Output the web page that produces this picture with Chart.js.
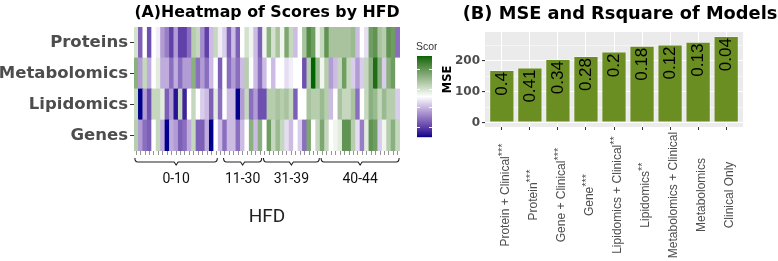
<!DOCTYPE html>
<html>
<head>
<meta charset="utf-8">
<script src="https://cdn.jsdelivr.net/npm/chart.js@4.4.0/dist/chart.umd.min.js"></script>
<style>
  html, body { margin: 0; padding: 0; background: #fff; }
  #wrap { position: relative; width: 778px; height: 261px; overflow: hidden; }
  #heat { position: absolute; left: 0; top: 0; width: 437px; height: 261px; }
  #bars { position: absolute; left: 437px; top: 0; width: 341px; height: 261px; }
</style>
</head>
<body>
<div id="wrap">
  <canvas id="heat" width="437" height="261"></canvas>
  <canvas id="bars" width="341" height="261"></canvas>
</div>
<script>
// ---- panel A: scores per HFD column, one array per omics row ----
const rowNames = ["Proteins", "Metabolomics", "Lipidomics", "Genes"];

const proteins = [0.15,-0.5,0.0,-0.55,0.0,-0.05,-0.3,-0.4,-0.6,-0.3,
  -0.6,-0.6,-0.45,0.25,0.2,-0.35,-0.6,-0.2,0.2,-0.05,
  -0.15,-0.5,-0.2,-0.5,0.0,0.15,0.05,-0.2,-0.5,0.05,
  0.4,0.15,0.3,0.05,0.45,0.2,-0.2,0.0,0.3,0.6,
  0.5,0.05,0.2,0.55,0.3,0.3,0.3,0.3,0.3,0.35,
  -0.2,0.0,-0.1,0.5,0.55,0.3,0.25,0.55,0.5,-0.45];
const metabolomics = [0.4,-0.3,0.2,-0.25,0.0,0.1,-0.25,-0.25,-0.45,-0.25,
  -0.45,-0.3,-0.3,0.4,-0.45,-0.3,-0.45,-0.2,0.0,-0.5,
  0.0,-0.45,-0.3,-0.45,-0.2,0.25,0.0,-0.2,-0.45,-0.2,
  0.0,-0.2,0.0,0.0,-0.1,-0.05,0.0,0.0,-0.55,0.25,
  0.9,0.35,0.05,0.25,-0.3,-0.2,0.2,0.5,0.2,-0.15,
  -0.3,-0.15,0.2,0.4,0.75,0.4,-0.15,0.4,0.5,0.0];
const lipidomics = [0.2,-0.9,-0.3,-0.55,0.2,0.2,0.1,-0.5,-0.3,-0.75,
  0.2,-0.7,0.0,0.2,0.0,-0.15,-0.2,-0.5,0.1,-0.45,
  0.0,-0.2,-0.2,-0.85,-0.3,0.2,-0.45,-0.3,-0.55,-0.55,
  0.25,0.25,0.3,0.25,0.3,0.2,-0.5,0.0,0.0,0.3,
  0.25,0.25,0.35,0.25,-0.2,0.0,0.3,0.2,0.2,0.3,
  -0.45,0.0,0.2,0.4,0.35,0.2,0.35,0.25,0.25,-0.15];
const genes = [0.25,-0.3,-0.45,-0.5,0.0,0.2,-0.25,-0.95,-0.25,-0.3,
  -0.5,-0.45,-0.25,0.2,-0.5,-0.5,-0.25,-0.8,0.0,-0.2,
  -0.45,-0.2,-0.2,-0.45,-0.2,0.0,0.4,-0.2,0.4,0.0,
  0.5,0.2,0.35,0.2,-0.1,-0.2,0.0,-0.15,-0.45,0.45,
  0.0,0.2,0.45,0.2,0.0,0.05,0.1,0.55,0.55,0.25,
  -0.1,-0.4,0.1,0.55,0.5,-0.15,0.05,0.25,0.4,0.2];

const hfdColumns = proteins.map((_, i) => "S" + (i + 1));
const groupLabels = ["0-10", "11-30", "31-39", "40-44"];
const groupFirst = [0, 20, 29, 42];
const groupLast = [18, 28, 41, 59];
const scoreLimit = 0.8;
const legendTicks = [0.55, 0.15, -0.2, -0.6];

// ---- panel B: models ----
const models = ["Protein + Clinical***", "Protein***", "Gene + Clinical***", "Gene***",
  "Lipidomics + Clinical**", "Lipidomics**", "Metabolomics + Clinical", "Metabolomics", "Clinical Only"];
const mse = [170, 178, 205, 215, 229, 248, 252, 261, 279];
const rsquare = ["0.4", "0.41", "0.34", "0.28", "0.2", "0.18", "0.12", "0.13", "0.04"];
const mseTicks = [0, 50, 100, 150, 200, 250];

// colour ramp low-mid-high interpolated in CIE Lab like ggplot
function hexToRgb(h) { return [1, 3, 5].map(i => parseInt(h.slice(i, i + 2), 16)); }
function toLab(rgb) {
  const f = c => { c /= 255; return c <= 0.04045 ? c / 12.92 : Math.pow((c + 0.055) / 1.055, 2.4); };
  const [R, G, B] = rgb.map(f);
  let X = (R * 0.4124 + G * 0.3576 + B * 0.1805) / 0.95047;
  let Y = R * 0.2126 + G * 0.7152 + B * 0.0722;
  let Z = (R * 0.0193 + G * 0.1192 + B * 0.9505) / 1.08883;
  const g = t => t > 0.008856 ? Math.cbrt(t) : 7.787 * t + 16 / 116;
  X = g(X); Y = g(Y); Z = g(Z);
  return [116 * Y - 16, 500 * (X - Y), 200 * (Y - Z)];
}
function fromLab(lab) {
  let Y = (lab[0] + 16) / 116, X = lab[1] / 500 + Y, Z = Y - lab[2] / 200;
  const h = t => { const t3 = t * t * t; return t3 > 0.008856 ? t3 : (t - 16 / 116) / 7.787; };
  X = h(X) * 0.95047; Y = h(Y); Z = h(Z) * 1.08883;
  const R = X * 3.2406 - Y * 1.5372 - Z * 0.4986;
  const G = -X * 0.9689 + Y * 1.8758 + Z * 0.0415;
  const B = X * 0.0557 - Y * 0.2040 + Z * 1.0570;
  const f = c => { c = c <= 0.0031308 ? 12.92 * c : 1.055 * Math.pow(c, 1 / 2.4) - 0.055; return Math.round(Math.max(0, Math.min(1, c)) * 255); };
  return "rgb(" + f(R) + "," + f(G) + "," + f(B) + ")";
}
const lowLab = toLab(hexToRgb("#00008B"));
const highLab = toLab(hexToRgb("#006400"));
const midLab = [100, 0, 0];
function scoreColor(v) {
  const t = Math.max(-1, Math.min(1, v / scoreLimit));
  const end = t < 0 ? lowLab : highLab;
  const k = Math.abs(t);
  return fromLab(midLab.map((m, i) => m + (end[i] - m) * k));
}

const rowsBottomUp = [genes, lipidomics, metabolomics, proteins];

const heatExtras = {
  id: "heatExtras",
  afterDraw(chart) {
    const ctx = chart.ctx, area = chart.chartArea, x = chart.scales.x;
    const w = x.getPixelForValue(1) - x.getPixelForValue(0);
    ctx.save();
    // title
    ctx.fillStyle = "#000";
    ctx.font = "bold 15.8px 'DejaVu Sans'";
    ctx.textAlign = "center";
    ctx.textBaseline = "alphabetic";
    ctx.fillText("(A)Heatmap of Scores by HFD", (area.left + area.right) / 2, 17);
    // braces under the column groups
    ctx.strokeStyle = "#222";
    ctx.lineWidth = 1.1;
    const yb = area.bottom + 11;
    groupLabels.forEach((lab, g) => {
      const x1 = x.getPixelForValue(groupFirst[g]) - w * 0.3;
      const x2 = x.getPixelForValue(groupLast[g]) + w * 0.3;
      const xm = (x1 + x2) / 2;
      ctx.beginPath();
      ctx.moveTo(x1, yb - 4);
      ctx.quadraticCurveTo(x1, yb, x1 + 3, yb);
      ctx.lineTo(xm - 2, yb);
      ctx.lineTo(xm, yb + 3);
      ctx.lineTo(xm + 2, yb);
      ctx.lineTo(x2 - 3, yb);
      ctx.quadraticCurveTo(x2, yb, x2, yb - 4);
      ctx.stroke();
      ctx.fillStyle = "#111";
      ctx.font = "14px Roboto";
      ctx.textAlign = "center";
      ctx.fillText(lab, xm, area.bottom + 32);
    });
    // axis title
    ctx.fillStyle = "#222";
    ctx.font = "19px Roboto";
    ctx.fillText("HFD", (area.left + area.right) / 2, area.bottom + 71);
    // colour bar legend
    const lx = 417, lw = 15, ly = 56, lh = 81;
    for (let i = 0; i < lh; i++) {
      ctx.fillStyle = scoreColor(scoreLimit * (1 - 2 * (i + 0.5) / lh));
      ctx.fillRect(lx, ly + i, lw, 1.2);
    }
    ctx.strokeStyle = "rgba(255,255,255,0.9)";
    ctx.lineWidth = 1;
    legendTicks.forEach(v => {
      const yy = Math.round(ly + (1 - v / scoreLimit) / 2 * lh) + 0.5;
      ctx.beginPath();
      ctx.moveTo(lx, yy); ctx.lineTo(lx + 3, yy);
      ctx.moveTo(lx + lw - 3, yy); ctx.lineTo(lx + lw, yy);
      ctx.stroke();
    });
    ctx.fillStyle = "#333";
    ctx.font = "10.5px 'Liberation Sans'";
    ctx.textAlign = "left";
    ctx.fillText("Score", 416, 50);
    ctx.restore();
  }
};

new Chart(document.getElementById("heat"), {
  type: "bar",
  data: {
    labels: hfdColumns,
    datasets: rowsBottomUp.map((vals, r) => ({
      label: rowNames[3 - r],
      data: vals.map(() => 1),
      backgroundColor: vals.map(scoreColor),
      borderWidth: 0,
      inflateAmount: 0.4,
      barPercentage: 1,
      categoryPercentage: 1
    }))
  },
  options: {
    responsive: false,
    animation: false,
    layout: { padding: { top: 27, right: 37, left: 0, bottom: 0 } },
    plugins: { legend: { display: false }, tooltip: { enabled: false } },
    scales: {
      x: {
        stacked: true,
        ticks: { display: false, autoSkip: false },
        grid: { offset: false, drawOnChartArea: false, tickLength: 4, color: "#666", lineWidth: 0.7 },
        border: { display: false },
        afterFit(s) { s.height = 110; }
      },
      y: {
        stacked: true,
        min: 0,
        max: 4,
        afterBuildTicks(s) { s.ticks = rowNames.map((_, i) => ({ value: i + 0.5 })); },
        ticks: {
          callback: v => rowNames[3 - Math.floor(v)],
          font: { family: "DejaVu Sans", weight: "bold", size: 16.5 },
          color: "#4D4D4D",
          padding: 2
        },
        grid: { drawOnChartArea: false, tickLength: 4, color: "#333" },
        border: { display: false },
        afterFit(s) { s.width = 134; }
      }
    }
  },
  plugins: [heatExtras]
});

const panelBg = {
  id: "panelBg",
  beforeDraw(chart) {
    const a = chart.chartArea, ctx = chart.ctx;
    ctx.save();
    ctx.fillStyle = "#fff";
    ctx.fillRect(0, 0, chart.width, chart.height);
    ctx.fillStyle = "#EBEBEB";
    ctx.fillRect(a.left, a.top, a.right - a.left, a.bottom - a.top);
    ctx.restore();
  }
};

const barExtras = {
  id: "barExtras",
  afterDraw(chart) {
    const ctx = chart.ctx, x = chart.scales.x;
    const meta = chart.getDatasetMeta(0);
    ctx.save();
    // R-square labels inside the bars
    ctx.fillStyle = "#000";
    ctx.font = "17px 'Liberation Sans'";
    meta.data.forEach((bar, i) => {
      ctx.save();
      ctx.translate(bar.x, bar.y + 2);
      ctx.rotate(-Math.PI / 2);
      ctx.textAlign = "right";
      ctx.textBaseline = "middle";
      ctx.fillText(rsquare[i], 0, 0);
      ctx.restore();
    });
    // rotated model names with raised stars
    models.forEach((name, i) => {
      const m = name.match(/^(.*?)(\**)$/);
      const base = m[1], stars = m[2];
      ctx.font = "12px 'Liberation Sans'";
      const wb = ctx.measureText(base).width;
      ctx.font = "11px 'Liberation Sans'";
      const ws = stars ? ctx.measureText(stars).width : 0;
      const total = wb + ws;
      ctx.save();
      ctx.translate(x.getPixelForValue(i + 1) + 4, 195);
      ctx.rotate(-Math.PI / 2);
      ctx.fillStyle = "#4D4D4D";
      ctx.textAlign = "left";
      ctx.textBaseline = "middle";
      ctx.font = "12px 'Liberation Sans'";
      ctx.fillText(base, -total / 2, 0);
      if (stars) {
        ctx.font = "11px 'Liberation Sans'";
        ctx.fillText(stars, -total / 2 + wb, -3);
      }
      ctx.restore();
    });
    // title
    ctx.fillStyle = "#000";
    ctx.font = "bold 17.8px 'DejaVu Sans'";
    ctx.textAlign = "center";
    ctx.textBaseline = "alphabetic";
    ctx.fillText("(B) MSE and Rsquare of Models", 183, 19);
    ctx.restore();
  }
};

new Chart(document.getElementById("bars"), {
  type: "bar",
  data: {
    datasets: [{
      label: "MSE",
      data: mse.map((v, i) => ({ x: i + 1, y: v })),
      backgroundColor: "#6B8E23",
      borderColor: "rgba(255,255,255,0.35)",
      borderWidth: 1,
      borderSkipped: false,
      barPercentage: 0.9,
      categoryPercentage: 1
    }]
  },
  options: {
    responsive: false,
    animation: false,
    layout: { padding: { top: 32, right: 35, left: 0, bottom: 0 } },
    plugins: { legend: { display: false }, tooltip: { enabled: false } },
    scales: {
      x: {
        type: "linear",
        min: 0.4,
        max: 9.6,
        offset: false,
        afterBuildTicks(s) { s.ticks = models.map((_, i) => ({ value: i + 1 })); },
        ticks: { display: false },
        grid: { offset: false, color: "#fff", lineWidth: 1, tickColor: "#333", tickLength: 3 },
        border: { display: false },
        afterFit(s) { s.height = 134; }
      },
      y: {
        min: -13,
        max: 292,
        afterBuildTicks(s) { s.ticks = mseTicks.map(v => ({ value: v })); },
        ticks: {
          callback: v => (v % 100 === 0 ? String(v) : ""),
          font: { family: "DejaVu Sans", weight: "bold", size: 12 },
          color: "#4D4D4D",
          padding: 2
        },
        grid: {
          color: "#fff",
          lineWidth: c => (c.tick && c.tick.value % 100 === 0 ? 1.1 : 0.5),
          tickColor: c => (c.tick && c.tick.value % 100 === 0 ? "#333" : "rgba(0,0,0,0)"),
          tickLength: 3
        },
        border: { display: false },
        title: {
          display: true,
          text: "MSE",
          font: { family: "DejaVu Sans", weight: "bold", size: 11.5 },
          color: "#000",
          padding: { top: 4, bottom: 0 }
        },
        afterFit(s) { s.width = 48; }
      }
    }
  },
  plugins: [panelBg, barExtras]
});
</script>
</body>
</html>
